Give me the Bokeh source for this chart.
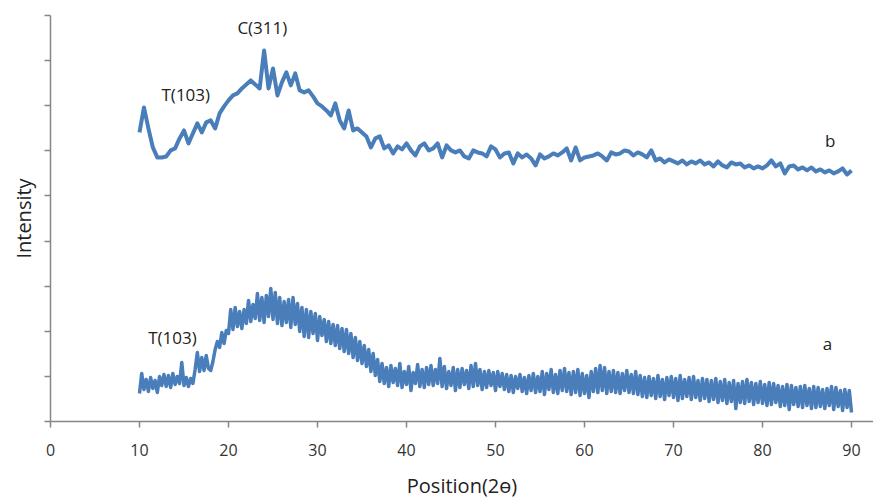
from bokeh.plotting import figure
from bokeh.models import Range1d, FixedTicker, Label
from bokeh.embed import file_html
from bokeh.resources import INLINE

# 2-theta scan grids (degrees)
two_theta_b = [round(10 + 0.5 * i, 2) for i in range(161)]
two_theta_a = [round(10 + 0.25 * i, 2) for i in range(321)]

# Sample b intensity (arb. units), read every 0.5 deg
intensity_b = [
    289, 314, 293, 274, 264, 264, 265, 271, 273, 283,   # 10.0 - 14.5
    291, 278, 288, 298, 289, 299, 301, 293, 308, 315,   # 15.0 - 19.5
    321, 326, 328, 333, 337, 341, 337, 333, 371, 333,   # 20.0 - 24.5
    353, 326, 339, 349, 336, 348, 331, 329, 331, 325,   # 25.0 - 29.5
    318, 315, 311, 306, 318, 301, 293, 311, 291, 293,   # 30.0 - 34.5
    289, 285, 274, 283, 285, 273, 276, 268, 275, 272,   # 35.0 - 39.5
    278, 271, 266, 275, 278, 271, 273, 278, 264, 276,   # 40.0 - 44.5
    271, 269, 271, 265, 263, 271, 269, 268, 265, 275,   # 45.0 - 49.5
    272, 264, 268, 269, 258, 268, 264, 267, 263, 256,   # 50.0 - 54.5
    267, 263, 265, 268, 266, 269, 273, 261, 274, 261,   # 55.0 - 59.5
    264, 265, 266, 268, 265, 261, 269, 267, 268, 271,   # 60.0 - 64.5
    270, 266, 269, 267, 264, 271, 261, 263, 259, 262,   # 65.0 - 69.5
    260, 258, 261, 257, 260, 258, 261, 257, 259, 255,   # 70.0 - 74.5
    260, 256, 254, 259, 257, 258, 254, 256, 253, 255,   # 75.0 - 79.5
    253, 256, 261, 255, 258, 248, 255, 256, 252, 254,   # 80.0 - 84.5
    251, 254, 250, 252, 249, 251, 248, 250, 253, 247,   # 85.0 - 89.5
    251,                                                # 90.0
]

# Sample a intensity (arb. units), read every 0.25 deg
intensity_a = [
    28, 48, 32, 42,  30, 44, 33, 41,  29, 45, 36, 47,  35, 46, 34, 48,  37, 45, 38, 59,   # 10-14
    36, 44, 35, 43,  38, 52, 69, 50,  64, 51, 66, 53,  51, 60, 72, 80,  74, 89, 78, 91,   # 15-19
    88, 112, 92, 114,  95, 110, 93, 112,  98, 121, 100, 117,  103, 128, 101, 124,  99, 126, 105, 133,  # 20-24
    102, 129, 98, 124,  96, 120, 99, 122,  94, 124, 97, 118,  90, 114, 85, 112,  84, 110, 88, 108,  # 25-29
    81, 105, 86, 102,  80, 100, 78, 97,  76, 96, 73, 93,  70, 92, 68, 88,  64, 84, 61, 80,   # 30-34
    58, 76, 55, 72,  50, 68, 46, 62,  40, 58, 38, 54,  35, 56, 39, 53,  36, 58, 34, 50,   # 35-39
    37, 55, 31, 49,  38, 57, 35, 52,  34, 54, 37, 56,  36, 52, 38, 63,  35, 55, 33, 50,   # 40-44
    36, 54, 31, 52,  34, 53, 37, 51,  33, 56, 35, 58,  36, 52, 32, 50,  34, 51, 36, 49,   # 45-49
    31, 50, 35, 48,  32, 47, 30, 46,  29, 45, 33, 47,  30, 44, 28, 46,  31, 48, 29, 45,   # 50-54
    30, 50, 27, 48,  32, 52, 29, 47,  28, 51, 31, 53,  30, 49, 27, 50,  29, 52, 26, 48,   # 55-59
    28, 46, 24, 50,  30, 53, 29, 56,  31, 54, 28, 50,  30, 51, 29, 49,  28, 48, 31, 51,   # 60-64
    29, 47, 28, 50,  27, 46, 25, 44,  24, 45, 26, 43,  23, 46, 25, 42,  22, 44, 26, 45,   # 65-69
    24, 43, 21, 46,  23, 42, 25, 44,  22, 45, 24, 41,  21, 43, 23, 42,  20, 41, 22, 43,   # 70-74
    19, 40, 21, 42,  18, 39, 20, 41,  13, 38, 19, 40,  18, 42, 20, 39,  17, 38, 19, 40,   # 75-79
    18, 37, 16, 39,  17, 38, 19, 36,  15, 35, 16, 37,  12, 36, 17, 34,  15, 35, 14, 36,   # 80-84
    16, 33, 13, 35,  14, 34, 15, 32,  13, 33, 16, 35,  12, 34, 15, 31,  11, 32, 14, 31,   # 85-89
    9,                                                                                  # 90
]

x_ticks = [0, 10, 20, 30, 40, 50, 60, 70, 80, 90]
y_ticks = [0, 45.1, 90.2, 135.3, 180.4, 225.5, 270.6, 315.7, 360.8, 405.9]

annotations = [
    ("C(311)", 23.8, 394),
    ("T(103)", 15.2, 327),
    ("b", 87.6, 281),
    ("T(103)", 13.7, 84),
    ("a", 87.3, 78),
]

LINE = "#4a7ebb"
AXIS = "#868686"
FONT = "Open Sans"

p = figure(frame_width=823, frame_height=406, output_backend="svg",
           toolbar_location=None, x_range=Range1d(0, 92.47),
           y_range=Range1d(0, 405.9))
p.min_border_left = 50
p.min_border_top = 15
p.min_border_right = 0
p.min_border_bottom = 70
p.outline_line_color = None
p.xgrid.visible = False
p.ygrid.visible = False
p.background_fill_color = "white"
p.border_fill_color = "white"

p.line(two_theta_b, intensity_b, line_color=LINE, line_width=4, line_join="round")
p.line(two_theta_a, intensity_a, line_color=LINE, line_width=3.5, line_join="round")

for txt, x, y in annotations:
    p.add_layout(Label(x=x, y=y, text=txt, text_font=FONT, text_font_size="17px",
                       text_color="#222222", text_align="center",
                       text_baseline="middle"))

xa = p.xaxis[0]
xa.ticker = FixedTicker(ticks=x_ticks)
xa.axis_line_color = AXIS
xa.axis_line_width = 1.5
xa.major_tick_line_color = AXIS
xa.major_tick_line_width = 1.5
xa.major_tick_in = 0
xa.major_tick_out = 6
xa.minor_tick_line_color = None
xa.major_label_text_font = FONT
xa.major_label_text_font_size = "16px"
xa.major_label_text_color = "#333333"
xa.major_label_standoff = 16
xa.axis_label = "Position(2ө)"
xa.axis_label_text_font = FONT
xa.axis_label_text_font_size = "20px"
xa.axis_label_text_font_style = "normal"
xa.axis_label_text_color = "#222222"
xa.axis_label_standoff = 13

ya = p.yaxis[0]
ya.ticker = FixedTicker(ticks=y_ticks)
ya.axis_line_color = AXIS
ya.axis_line_width = 1.5
ya.major_tick_line_color = AXIS
ya.major_tick_line_width = 1.5
ya.major_tick_in = 0
ya.major_tick_out = 6
ya.minor_tick_line_color = None
ya.major_label_overrides = {t: "" for t in y_ticks}
ya.major_label_standoff = 0
ya.axis_label = "Intensity"
ya.axis_label_text_font = FONT
ya.axis_label_text_font_size = "20px"
ya.axis_label_text_font_style = "normal"
ya.axis_label_text_color = "#222222"
ya.axis_label_standoff = 8

open("out.html", "w").write(file_html(p, INLINE))
